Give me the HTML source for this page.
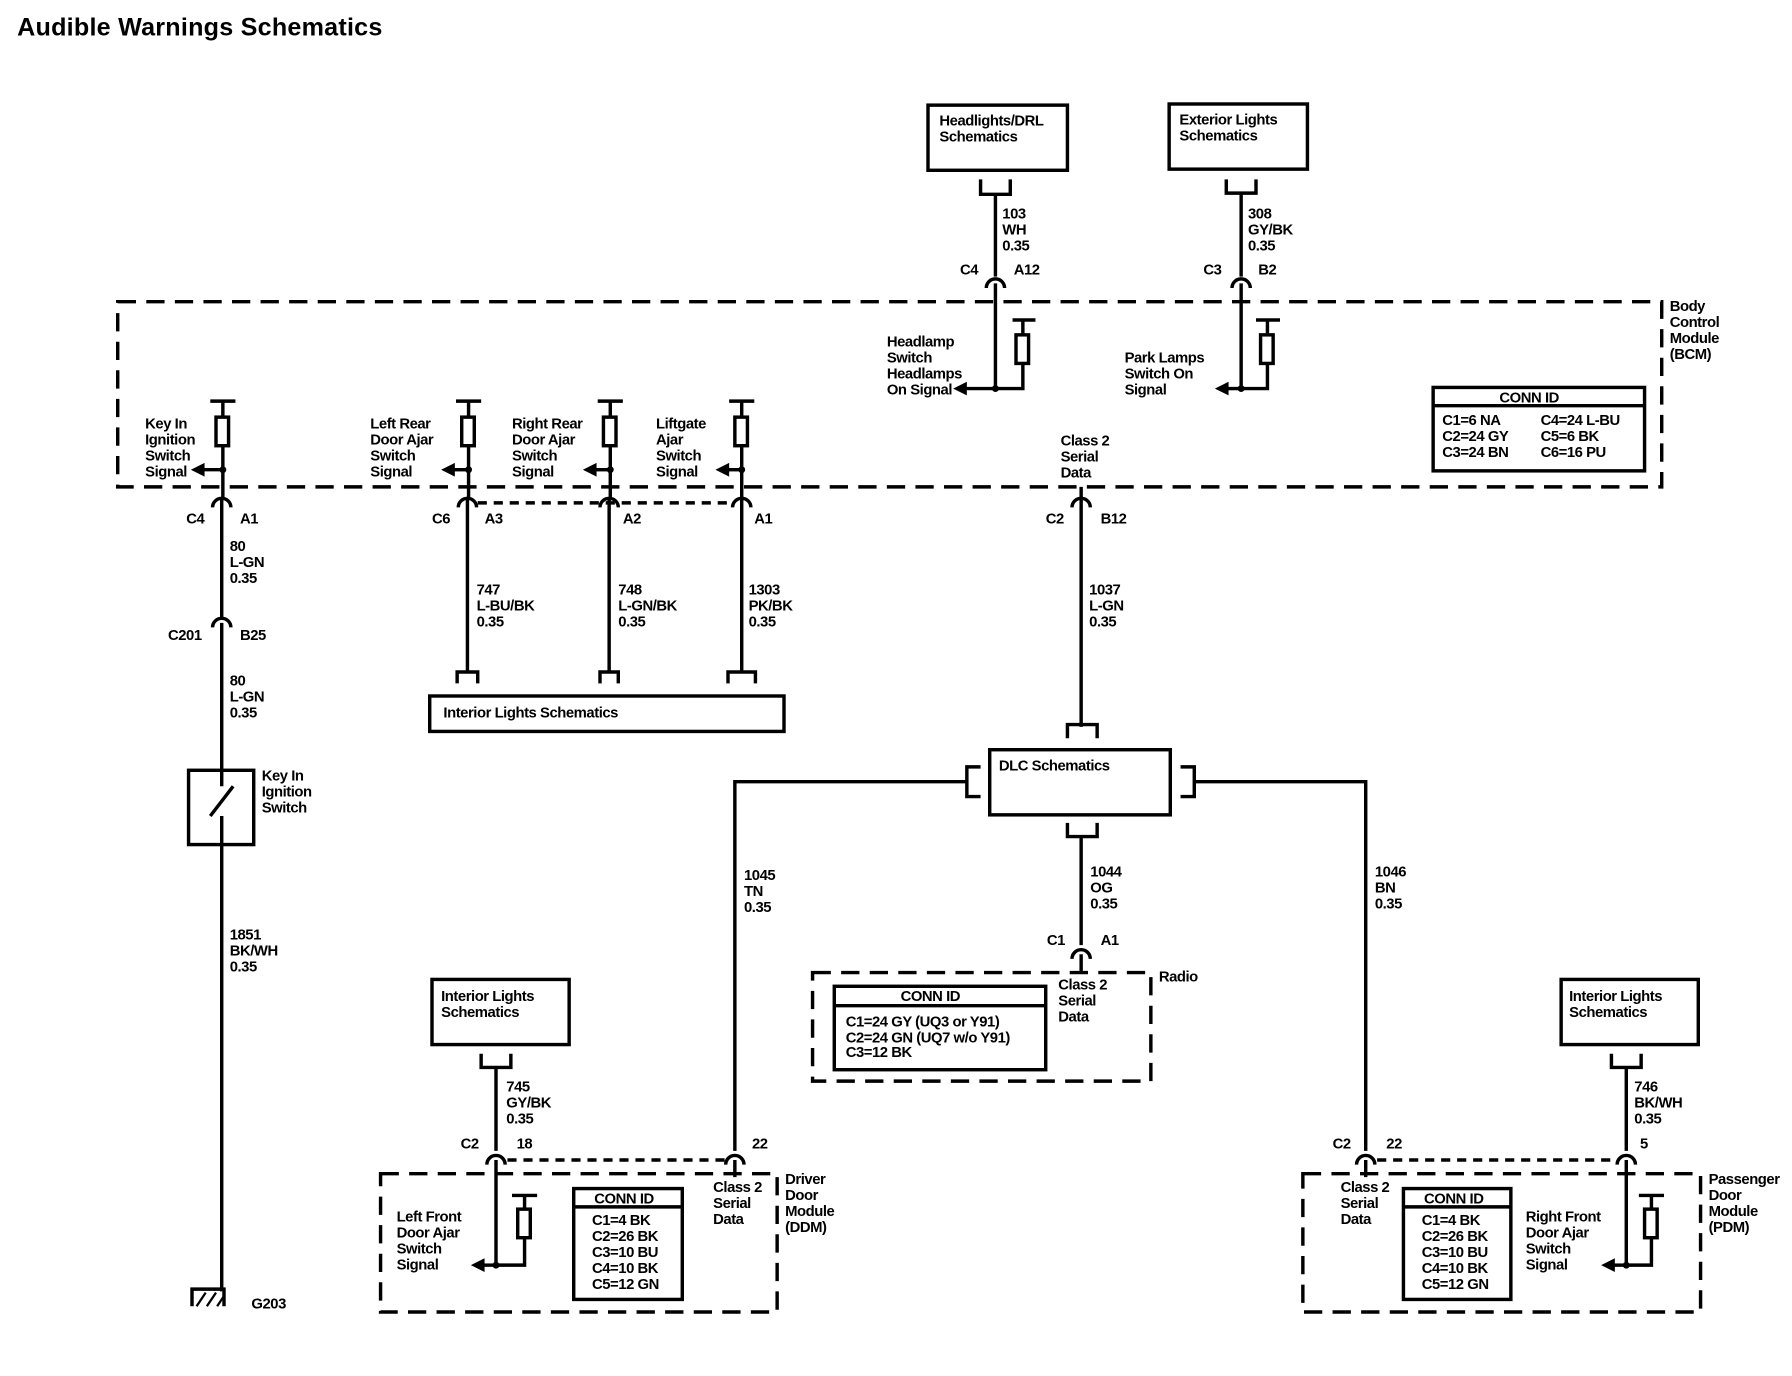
<!DOCTYPE html>
<html><head><meta charset="utf-8"><style>
html,body{margin:0;padding:0;background:#fff;}
svg{display:block;}
text{font-family:"Liberation Sans",sans-serif;font-size:13px;font-weight:bold;fill:#000;letter-spacing:-0.4px;}
.t{font-size:22px;letter-spacing:0.2px;}
.w{stroke:#000;stroke-width:3;fill:none;}
.n{stroke:#000;stroke-width:2;fill:none;}
.d{stroke:#000;stroke-width:3;fill:none;stroke-dasharray:16 9;}
.ds{stroke:#000;stroke-width:3;fill:none;stroke-dasharray:8 6;}
</style></head><body>
<svg width="1792" height="1376" viewBox="0 0 1568 1204" preserveAspectRatio="none" xmlns="http://www.w3.org/2000/svg">
<text class="t" x="15" y="31">Audible Warnings Schematics</text>

<!-- Headlights/DRL -->
<rect x="812" y="92" width="122" height="57" class="w"/>
<text x="822" y="110">Headlights/DRL</text><text x="822" y="124">Schematics</text>
<path d="M858 157V170H884V157" class="w"/>
<path d="M871 170V242" class="w"/>
<text x="877" y="191">103</text><text x="877" y="205">WH</text><text x="877" y="219">0.35</text>
<text x="840" y="240">C4</text><text x="887" y="240">A12</text>
<path d="M863 252A8 8 0 0 1 879 252" class="w"/>
<path d="M871 248V340" class="w"/>
<path d="M886 280H906M895 280V293M895 318V340H871" class="w"/>
<rect x="889" y="293" width="11" height="25" class="w"/>
<circle cx="871" cy="340" r="3"/>
<path d="M871 340H844" class="w"/><path d="M834 340L846 334V346Z"/>
<text x="776" y="303">Headlamp</text><text x="776" y="317">Switch</text><text x="776" y="331">Headlamps</text><text x="776" y="345">On Signal</text>

<!-- Exterior Lights -->
<rect x="1023" y="91" width="121" height="57" class="w"/>
<text x="1032" y="109">Exterior Lights</text><text x="1032" y="123">Schematics</text>
<path d="M1073 157V169H1099V157" class="w"/>
<path d="M1086 169V242" class="w"/>
<text x="1092" y="191">308</text><text x="1092" y="205">GY/BK</text><text x="1092" y="219">0.35</text>
<text x="1053" y="240">C3</text><text x="1101" y="240">B2</text>
<path d="M1078 252A8 8 0 0 1 1094 252" class="w"/>
<path d="M1086 248V340" class="w"/>
<path d="M1099 280H1120M1109 280V293M1109 318V340H1086" class="w"/>
<rect x="1103" y="293" width="11" height="25" class="w"/>
<circle cx="1086" cy="340" r="3"/>
<path d="M1086 340H1074" class="w"/><path d="M1063 340L1075 334V346Z"/>
<text x="984" y="317">Park Lamps</text><text x="984" y="331">Switch On</text><text x="984" y="345">Signal</text>

<!-- BCM -->
<rect x="103" y="264" width="1351" height="162" class="d"/>
<text x="1461" y="272">Body</text><text x="1461" y="286">Control</text><text x="1461" y="300">Module</text><text x="1461" y="314">(BCM)</text>
<rect x="1254" y="339" width="185" height="73" class="w"/>
<path d="M1254 355H1439" class="w"/>
<text x="1312" y="352">CONN ID</text>
<text x="1262" y="372">C1=6 NA</text><text x="1348" y="372">C4=24 L-BU</text>
<text x="1262" y="386">C2=24 GY</text><text x="1348" y="386">C5=6 BK</text>
<text x="1262" y="400">C3=24 BN</text><text x="1348" y="400">C6=16 PU</text>
<text x="928" y="390">Class 2</text><text x="928" y="404">Serial</text><text x="928" y="418">Data</text>

<!-- BCM input branches -->
<g>
<path d="M184 351H206M195 351V365M195 390V436" class="w"/><rect x="189" y="365" width="11" height="25" class="w"/>
<circle cx="195" cy="411" r="3"/><path d="M195 411H178" class="w"/><path d="M167 411L179 405V417Z"/>
<text x="127" y="375">Key In</text><text x="127" y="389">Ignition</text><text x="127" y="403">Switch</text><text x="127" y="417">Signal</text>

<path d="M399 351H421M410 351V365M410 390V436" class="w"/><rect x="404" y="365" width="11" height="25" class="w"/>
<circle cx="410" cy="411" r="3"/><path d="M410 411H397" class="w"/><path d="M386 411L398 405V417Z"/>
<text x="324" y="375">Left Rear</text><text x="324" y="389">Door Ajar</text><text x="324" y="403">Switch</text><text x="324" y="417">Signal</text>

<path d="M523 351H545M534 351V365M534 390V436" class="w"/><rect x="528" y="365" width="11" height="25" class="w"/>
<circle cx="534" cy="411" r="3"/><path d="M534 411H521" class="w"/><path d="M510 411L522 405V417Z"/>
<text x="448" y="375">Right Rear</text><text x="448" y="389">Door Ajar</text><text x="448" y="403">Switch</text><text x="448" y="417">Signal</text>

<path d="M638 351H660M649 351V365M649 390V436" class="w"/><rect x="643" y="365" width="11" height="25" class="w"/>
<circle cx="649" cy="411" r="3"/><path d="M649 411H637" class="w"/><path d="M626 411L638 405V417Z"/>
<text x="574" y="375">Liftgate</text><text x="574" y="389">Ajar</text><text x="574" y="403">Switch</text><text x="574" y="417">Signal</text>
</g>

<!-- BCM bottom connectors -->
<path d="M186 444A8 8 0 0 1 202 444" class="w"/>
<path d="M401 444A8 8 0 0 1 417 444" class="w"/>
<path d="M525 444A8 8 0 0 1 541 444" class="w"/>
<path d="M641 444A8 8 0 0 1 657 444" class="w"/>
<path d="M938 444A8 8 0 0 1 954 444" class="w"/>
<path d="M946 426V436" class="w"/>
<path d="M418 440H640" class="ds"/>
<text x="163" y="458">C4</text><text x="210" y="458">A1</text>
<text x="378" y="458">C6</text><text x="424" y="458">A3</text>
<text x="545" y="458">A2</text><text x="660" y="458">A1</text>
<text x="915" y="458">C2</text><text x="963" y="458">B12</text>

<!-- Key in wire -->
<path d="M194 437V541" class="w"/>
<text x="201" y="482">80</text><text x="201" y="496">L-GN</text><text x="201" y="510">0.35</text>
<path d="M186 549A8 8 0 0 1 202 549" class="w"/>
<path d="M194 545V675" class="w"/>
<text x="147" y="560">C201</text><text x="210" y="560">B25</text>
<text x="201" y="600">80</text><text x="201" y="614">L-GN</text><text x="201" y="628">0.35</text>
<rect x="165" y="674" width="57" height="65" class="w"/>
<path d="M194 674V688M184 714L204 688M194 714V739" class="w"/>
<text x="229" y="683">Key In</text><text x="229" y="697">Ignition</text><text x="229" y="711">Switch</text>
<path d="M194 739V1130" class="w"/>
<text x="201" y="822">1851</text><text x="201" y="836">BK/WH</text><text x="201" y="850">0.35</text>
<path d="M168 1143V1128H196V1143" class="w"/>
<path d="M172 1143L180 1131M181 1143L189 1131M190 1143L196 1134" class="n"/>
<text x="220" y="1145">G203</text>

<!-- Interior lights (top) -->
<path d="M409 437V588M533 437V588M649 437V588" class="w"/>
<text x="417" y="520">747</text><text x="417" y="534">L-BU/BK</text><text x="417" y="548">0.35</text>
<text x="541" y="520">748</text><text x="541" y="534">L-GN/BK</text><text x="541" y="548">0.35</text>
<text x="655" y="520">1303</text><text x="655" y="534">PK/BK</text><text x="655" y="548">0.35</text>
<path d="M400 598V588H418V598M525 598V588H541V598M637 598V588H661V598" class="w"/>
<rect x="376" y="609" width="310" height="31" class="w"/>
<text x="388" y="628">Interior Lights Schematics</text>

<!-- DLC -->
<path d="M946 437V636" class="w"/>
<text x="953" y="520">1037</text><text x="953" y="534">L-GN</text><text x="953" y="548">0.35</text>
<path d="M934 646V634H960V646" class="w"/>
<rect x="866" y="656" width="158" height="57" class="w"/>
<text x="874" y="674">DLC Schematics</text>
<path d="M858 671H846V697H858M1033 671H1045V697H1033" class="w"/>
<path d="M846 684H643V1007M1045 684H1195V1007" class="w"/>
<path d="M934 720V732H960V720" class="w"/>
<path d="M946 732V827" class="w"/>
<text x="651" y="770">1045</text><text x="651" y="784">TN</text><text x="651" y="798">0.35</text>
<text x="954" y="767">1044</text><text x="954" y="781">OG</text><text x="954" y="795">0.35</text>
<text x="1203" y="767">1046</text><text x="1203" y="781">BN</text><text x="1203" y="795">0.35</text>

<!-- Radio -->
<text x="916" y="827">C1</text><text x="963" y="827">A1</text>
<path d="M938 839A8 8 0 0 1 954 839" class="w"/>
<path d="M946 835V852" class="w"/>
<rect x="711" y="851" width="296" height="95" class="d"/>
<text x="1014" y="859">Radio</text>
<text x="926" y="866">Class 2</text><text x="926" y="880">Serial</text><text x="926" y="894">Data</text>
<rect x="730" y="863" width="185" height="73" class="w"/>
<path d="M730 880H915" class="w"/>
<text x="788" y="876">CONN ID</text>
<text x="740" y="898">C1=24 GY (UQ3 or Y91)</text>
<text x="740" y="912">C2=24 GN (UQ7 w/o Y91)</text>
<text x="740" y="925">C3=12 BK</text>

<!-- DDM -->
<rect x="378" y="857" width="120" height="57" class="w"/>
<text x="386" y="876">Interior Lights</text><text x="386" y="890">Schematics</text>
<path d="M421 922V934H447V922" class="w"/>
<path d="M434 934V1007" class="w"/>
<text x="443" y="955">745</text><text x="443" y="969">GY/BK</text><text x="443" y="983">0.35</text>
<text x="403" y="1005">C2</text><text x="452" y="1005">18</text><text x="658" y="1005">22</text>
<path d="M426 1019A8 8 0 0 1 442 1019" class="w"/>
<path d="M635 1019A8 8 0 0 1 651 1019" class="w"/>
<path d="M444 1015H634" class="ds"/>
<path d="M434 1015V1107M643 1015V1030" class="w"/>
<rect x="333" y="1027" width="347" height="121" class="d"/>
<text x="687" y="1036">Driver</text><text x="687" y="1050">Door</text><text x="687" y="1064">Module</text><text x="687" y="1078">(DDM)</text>
<text x="624" y="1043">Class 2</text><text x="624" y="1057">Serial</text><text x="624" y="1071">Data</text>
<rect x="502" y="1040" width="95" height="97" class="w"/>
<path d="M502 1056H597" class="w"/>
<text x="520" y="1053">CONN ID</text>
<text x="518" y="1072">C1=4 BK</text><text x="518" y="1086">C2=26 BK</text><text x="518" y="1100">C3=10 BU</text><text x="518" y="1114">C4=10 BK</text><text x="518" y="1128">C5=12 GN</text>
<text x="347" y="1069">Left Front</text><text x="347" y="1083">Door Ajar</text><text x="347" y="1097">Switch</text><text x="347" y="1111">Signal</text>
<path d="M448 1046H470M459 1046V1058M459 1083V1107H434" class="w"/><rect x="453" y="1058" width="11" height="25" class="w"/>
<circle cx="434" cy="1107" r="3"/><path d="M434 1107H423" class="w"/><path d="M412 1107L424 1101V1113Z"/>

<!-- PDM -->
<rect x="1366" y="857" width="120" height="57" class="w"/>
<text x="1373" y="876">Interior Lights</text><text x="1373" y="890">Schematics</text>
<path d="M1410 922V934H1436V922" class="w"/>
<path d="M1423 934V1007" class="w"/>
<text x="1430" y="955">746</text><text x="1430" y="969">BK/WH</text><text x="1430" y="983">0.35</text>
<text x="1166" y="1005">C2</text><text x="1213" y="1005">22</text><text x="1435" y="1005">5</text>
<path d="M1187 1019A8 8 0 0 1 1203 1019" class="w"/>
<path d="M1415 1019A8 8 0 0 1 1431 1019" class="w"/>
<path d="M1205 1015H1414" class="ds"/>
<path d="M1195 1015V1030M1423 1015V1107" class="w"/>
<rect x="1140" y="1027" width="348" height="121" class="d"/>
<text x="1495" y="1036">Passenger</text><text x="1495" y="1050">Door</text><text x="1495" y="1064">Module</text><text x="1495" y="1078">(PDM)</text>
<text x="1173" y="1043">Class 2</text><text x="1173" y="1057">Serial</text><text x="1173" y="1071">Data</text>
<rect x="1228" y="1040" width="94" height="97" class="w"/>
<path d="M1228 1056H1322" class="w"/>
<text x="1246" y="1053">CONN ID</text>
<text x="1244" y="1072">C1=4 BK</text><text x="1244" y="1086">C2=26 BK</text><text x="1244" y="1100">C3=10 BU</text><text x="1244" y="1114">C4=10 BK</text><text x="1244" y="1128">C5=12 GN</text>
<text x="1335" y="1069">Right Front</text><text x="1335" y="1083">Door Ajar</text><text x="1335" y="1097">Switch</text><text x="1335" y="1111">Signal</text>
<path d="M1434 1046H1456M1445 1046V1058M1445 1083V1107H1423" class="w"/><rect x="1439" y="1058" width="11" height="25" class="w"/>
<circle cx="1423" cy="1107" r="3"/><path d="M1423 1107H1412" class="w"/><path d="M1401 1107L1413 1101V1113Z"/>
</svg>
</body></html>
